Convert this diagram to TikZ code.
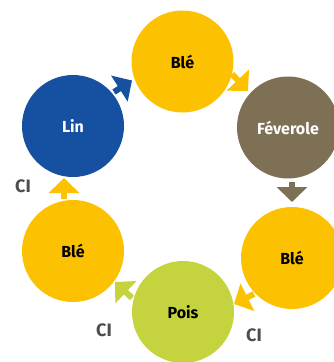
\documentclass[tikz,border=0pt]{standalone}
\usepackage{fontspec}
\setmainfont{Fira Sans}
\usetikzlibrary{arrows.meta}
\definecolor{cyel}{HTML}{FCC100}
\definecolor{cblue}{HTML}{1650A0}
\definecolor{cbrown}{HTML}{7D7055}
\definecolor{cgreen}{HTML}{C4D33E}
\definecolor{cgray}{HTML}{4D4D4D}
\begin{document}
\begin{tikzpicture}[x=1pt,y=-1pt,
  crop/.style={circle,minimum size=102pt,inner sep=0pt,draw=none,font=\fontsize{16}{18}\selectfont\bfseries},
  blk/.style={crop,text=black},
  wht/.style={crop,text=white},
  arr/.style={line width=6pt,-{Triangle[width=30pt,length=15pt]}},
  ci/.style={text=cgray,font=\fontsize{18}{20}\selectfont\bfseries,inner sep=0pt}]
\useasboundingbox (0,0) rectangle (334,362);
\clip (0,0) rectangle (334,362);
\node[blk,fill=cyel] (ble1) at (182.5,61.5) {Blé};
\node[wht,fill=cbrown] (fev) at (288,127.5) {Féverole};
\node[blk,fill=cyel] (ble2) at (292,258) {Blé};
\node[blk,fill=cgreen] (pois) at (183,312) {Pois};
\node[blk,fill=cyel] (ble3) at (73,251) {Blé};
\node[wht,fill=cblue] (lin) at (73,126) {\raisebox{-5pt}{Lin}};
\coordinate (a1s) at (114,92);  \coordinate (a1e) at (132,80.5);
\coordinate (a2s) at (232,74);  \coordinate (a2e) at (248,91);
\coordinate (a3s) at (292,182); \coordinate (a3e) at (292,202);
\coordinate (a4s) at (254,294); \coordinate (a4e) at (234,304);
\coordinate (a5s) at (132,298); \coordinate (a5e) at (115,282);
\coordinate (a6s) at (64,199);  \coordinate (a6e) at (64,178);
\draw[arr,cblue] (a1s) -- (a1e);
\draw[arr,cyel] (a2s) -- (a2e);
\draw[arr,cbrown] (a3s) -- (a3e);
\draw[arr,cyel] (a4s) -- (a4e);
\draw[arr,cgreen] (a5s) -- (a5e);
\draw[arr,cyel] (a6s) -- (a6e);
\node[ci] (ci1) at (23,186.5) {CI};
\node[ci] (ci2) at (104,330) {CI};
\node[ci] (ci3) at (254,335) {CI};
\end{tikzpicture}
\end{document}
